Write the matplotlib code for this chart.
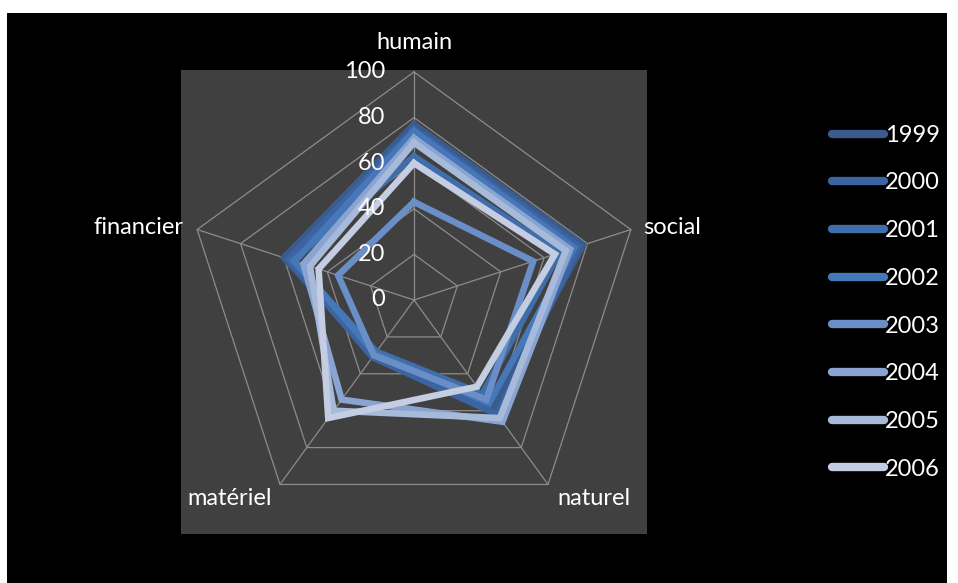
import matplotlib.pyplot as plt
from matplotlib.lines import Line2D
from matplotlib.patches import Rectangle
import numpy as np

# Radar of livelihood capitals, one polygon per year
axes_names = ['humain', 'social', 'naturel', 'matériel', 'financier']
years = ['1999', '2000', '2001', '2002', '2003', '2004', '2005', '2006']

v1999 = [77, 78, 59, 30, 60]
v2000 = [75, 76, 62, 31, 58]
v2001 = [63, 67, 51, 28, 56]
v2002 = [74, 74, 56, 29, 55]
v2003 = [43, 55, 54, 30, 35]
v2004 = [71, 72, 66, 54, 51]
v2005 = [69, 70, 64, 60, 48]
v2006 = [60, 65, 47, 64, 44]
series = [v1999, v2000, v2001, v2002, v2003, v2004, v2005, v2006]

colors = ['#3a5b8b', '#3c64a0', '#406eab', '#4677b9',
          '#6a8fc7', '#8aa4d1', '#a8bada', '#c4cde1']

ticks = [0, 20, 40, 60, 80, 100]

plt.rcParams['font.family'] = ['Lato', 'DejaVu Sans']
FS = 17

W, H = 958, 583
fig = plt.figure(figsize=(W / 100, H / 100), dpi=100, facecolor='white')
fig.patches.append(Rectangle((7 / W, 0), 940 / W, 570 / H, transform=fig.transFigure,
                             facecolor='black', edgecolor='none', zorder=-5))

# plot area in pixels: x 181..647, y 70..534 (from top)
ax = fig.add_axes([181 / W, (H - 534) / H, 466 / W, 464 / H])
ax.set_facecolor('#404040')
for s in ax.spines.values():
    s.set_visible(False)
ax.set_xticks([])
ax.set_yticks([])
scale = 2.28  # pixels per unit
ax.set_xlim(-233 / scale, 233 / scale)
ax.set_ylim(-234 / scale, 230 / scale)

n = len(axes_names)
angles = np.pi / 2 - np.arange(n) * 2 * np.pi / n


def to_xy(vals):
    vals = np.asarray(vals, dtype=float)
    x = vals * np.cos(angles)
    y = vals * np.sin(angles)
    return np.append(x, x[0]), np.append(y, y[0])


grid_col = '#8c8c8c'
for t in ticks[1:]:
    gx, gy = to_xy([t] * n)
    ax.plot(gx, gy, color=grid_col, lw=0.9, zorder=1)
for a in angles:
    ax.plot([0, 100 * np.cos(a)], [0, 100 * np.sin(a)], color=grid_col, lw=0.9, zorder=1)

for t in ticks:
    ax.text(-12.5, t, str(t), color='white', fontsize=FS, ha='right', va='center', zorder=5)

handles = []
for vals, c, yr in zip(series, colors, years):
    x, y = to_xy(vals)
    ax.plot(x, y, color=c, lw=4.7, solid_joinstyle='miter', zorder=3)
    handles.append(Line2D([], [], color=c, lw=6, solid_capstyle='round'))

# category labels around the web
lab_pos = [(0, 113, 'center', 'center'),
           (100.5, 32, 'left', 'center'),
           (79, -87, 'center', 'center'),
           (-81, -87, 'center', 'center'),
           (-101, 32, 'right', 'center')]
for name, (lx, ly, ha, va) in zip(axes_names, lab_pos):
    ax.text(lx, ly, name, color='white', fontsize=FS, ha=ha, va=va, clip_on=False)

leg = fig.legend(handles, years, loc='upper left', bbox_to_anchor=(820 / W, 1 - 113 / H),
                 frameon=False, fontsize=FS, labelcolor='white', handlelength=2.2,
                 handletextpad=0.05, labelspacing=1.13, borderpad=0)

fig.savefig('out.png', dpi=100, facecolor='white')
